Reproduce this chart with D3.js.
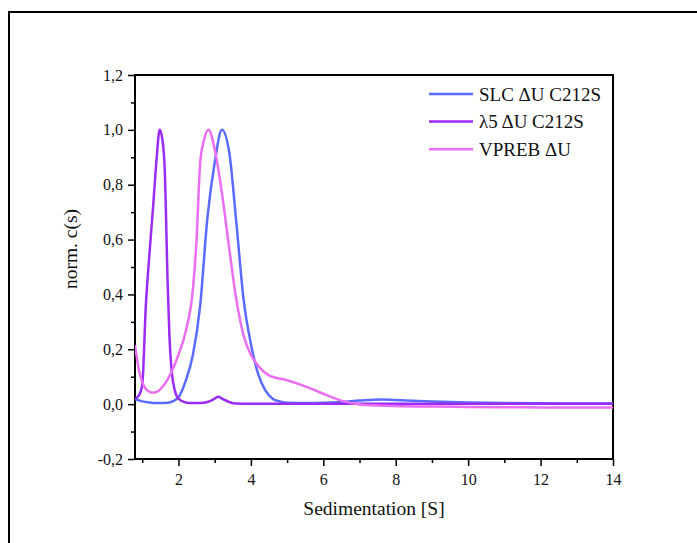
<!DOCTYPE html>
<html>
<head>
<meta charset="utf-8">
<script src="https://cdn.jsdelivr.net/npm/d3@7"></script>
<style>
  body { margin: 0; background: #fff; }
  svg { display: block; font-family: "Liberation Serif", "DejaVu Serif", serif; }
  svg text { font-family: "Liberation Serif", "DejaVu Serif", serif; }
</style>
</head>
<body>
<svg id="chart" width="697" height="543"></svg>
<script>
// sedimentation coefficient [S] and normalised c(s)
const slcS = [0.8, 1.0, 1.2, 1.4, 1.6, 1.8, 2.0, 2.2, 2.4, 2.6, 2.8, 3.0, 3.2, 3.4, 3.6, 3.8, 4.0, 4.2, 4.4, 4.6, 4.8, 5.0, 5.5, 6.0, 6.5, 7.0, 7.6, 8.0, 9.0, 10, 11, 12, 13, 14]
const slcC = [0.018, 0.01, 0.006, 0.004, 0.004, 0.008, 0.025, 0.085, 0.18, 0.36, 0.68, 0.88, 1.0, 0.92, 0.66, 0.38, 0.22, 0.11, 0.05, 0.02, 0.01, 0.005, 0.004, 0.005, 0.008, 0.013, 0.017, 0.015, 0.01, 0.006, 0.004, 0.003, 0.002, 0.002]

const l5S = [0.8, 0.9, 1.0, 1.1, 1.2, 1.3, 1.4, 1.48, 1.55, 1.62, 1.7, 1.75, 1.8, 1.9, 2.0, 2.2, 2.4, 2.6, 2.8, 3.0, 3.1, 3.2, 3.4, 3.6, 4, 5, 6, 8, 10, 12, 14]
const l5C = [0.02, 0.03, 0.07, 0.36, 0.55, 0.72, 0.9, 1.0, 0.97, 0.86, 0.45, 0.25, 0.14, 0.05, 0.02, 0.006, 0.004, 0.004, 0.008, 0.02, 0.027, 0.02, 0.008, 0.002, 0.001, 0.001, 0.001, 0.001, 0.001, 0.001, 0.001]

const vprebS = [0.8, 0.9, 1.0, 1.1, 1.2, 1.3, 1.4, 1.6, 1.8, 2.0, 2.2, 2.4, 2.5, 2.6, 2.7, 2.83, 3.0, 3.2, 3.4, 3.6, 3.8, 4.0, 4.2, 4.5, 5.0, 5.5, 6.0, 6.5, 7.0, 7.5, 8, 9, 10, 11, 12, 13, 14]
const vprebC = [0.215, 0.13, 0.08, 0.055, 0.045, 0.042, 0.045, 0.07, 0.115, 0.18, 0.265, 0.42, 0.6, 0.88, 0.96, 1.0, 0.93, 0.77, 0.57, 0.38, 0.25, 0.18, 0.14, 0.105, 0.087, 0.065, 0.038, 0.013, -0.001, -0.005, -0.007, -0.009, -0.01, -0.011, -0.012, -0.012, -0.012]

const seriesNames = ['SLC ΔU C212S', 'λ5 ΔU C212S', 'VPREB ΔU']
const seriesColors = ['#5a6cff', '#9a2cf6', '#e96ef0']

const xMajor = [2, 4, 6, 8, 10, 12, 14]
const xMinor = [1, 3, 5, 7, 9, 11, 13]
const yMajor = [-0.2, 0, 0.2, 0.4, 0.6, 0.8, 1.0, 1.2]
const yMinor = [-0.1, 0.1, 0.3, 0.5, 0.7, 0.9, 1.1]

const series = [
  { name: seriesNames[0], color: seriesColors[0], s: slcS, c: slcC },
  { name: seriesNames[1], color: seriesColors[1], s: l5S, c: l5C },
  { name: seriesNames[2], color: seriesColors[2], s: vprebS, c: vprebC }
]

const svg = d3.select('#chart')
const margin = { left: 135, right: 84, top: 75, bottom: 84 }
const width = 697 - margin.left - margin.right
const height = 543 - margin.top - margin.bottom

const x = d3.scaleLinear().domain([0.8, 14]).range([0, width])
const y = d3.scaleLinear().domain([-0.2, 1.2]).range([height, 0])

// outer frame (left and top edges only)
svg.append('path')
  .attr('d', 'M9,543 L9,12 L697,12')
  .attr('fill', 'none')
  .attr('stroke', '#000')
  .attr('stroke-width', 2)

const g = svg.append('g')
  .attr('transform', `translate(${ margin.left },${ margin.top })`)

g.append('clipPath').attr('id', 'plot-clip')
  .append('rect').attr('width', width).attr('height', height)

let fmt = (d) => d3.format('.1f')(d).replace('.', ',').replace('−', '-')

// axes
let styleAxis = (sel) => {
  sel.attr('font-family', null)
  sel.select('.domain').remove()
  sel.selectAll('line').attr('stroke', '#000').attr('stroke-width', 1.5)
  sel.selectAll('text')
    .attr('fill', '#111')
    .style('font-family', '"Liberation Serif", serif')
    .style('font-size', '16px')
}

g.append('g')
  .attr('transform', `translate(0,${ height })`)
  .call(d3.axisBottom(x).tickValues(xMajor).tickSize(7).tickPadding(8).tickFormat(d3.format('d')))
  .call(styleAxis)

g.append('g')
  .attr('transform', `translate(0,${ height })`)
  .call(d3.axisBottom(x).tickValues(xMinor).tickSize(4).tickFormat(''))
  .call(styleAxis)

g.append('g')
  .call(d3.axisLeft(y).tickValues(yMajor).tickSize(7).tickPadding(5).tickFormat(fmt))
  .call(styleAxis)

g.append('g')
  .call(d3.axisLeft(y).tickValues(yMinor).tickSize(4).tickFormat(''))
  .call(styleAxis)

// plot box
g.append('path')
  .attr('d', `M0,0 L0,${ height } L${ width },${ height } L${ width },0 Z`)
  .attr('fill', 'none')
  .attr('stroke', '#000')
  .attr('stroke-width', 2)

// curves
let line = d3.line()
  .x((d) => x(d[0]))
  .y((d) => y(d[1]))
  .curve(d3.curveMonotoneX)

g.append('g')
  .attr('clip-path', 'url(#plot-clip)')
  .selectAll('path.curve').data(series)
  .enter().append('path')
    .attr('class', 'curve')
    .attr('d', (d) => line(d.s.map((s, i) => [s, d.c[i]])))
    .attr('fill', 'none')
    .attr('stroke', (d) => d.color)
    .attr('stroke-width', 2.5)
    .attr('stroke-linejoin', 'round')

// axis titles
g.append('text')
  .attr('x', width / 2)
  .attr('y', height + 56)
  .attr('text-anchor', 'middle')
  .style('font-size', '19.5px')
  .attr('fill', '#111')
  .text('Sedimentation [S]')

g.append('text')
  .attr('transform', `translate(${ -58 },${ 174 }) rotate(-90)`)
  .attr('text-anchor', 'middle')
  .style('font-size', '19.5px')
  .attr('fill', '#111')
  .text('norm. c(s)')

// legend
let legend = g.append('g')
  .attr('transform', `translate(${ 294 },${ 19 })`)

let item = legend.selectAll('g.item').data(series)
  .enter().append('g')
    .attr('class', 'item')
    .attr('transform', (d, i) => `translate(0,${ i * 27.6 })`)

item.append('line')
  .attr('x1', 0).attr('x2', 44)
  .attr('stroke', (d) => d.color)
  .attr('stroke-width', 2.5)

item.append('text')
  .attr('x', 50)
  .attr('dy', '0.35em')
  .style('font-size', '19px')
  .attr('fill', '#111')
  .text((d) => d.name)
</script>
</body>
</html>
